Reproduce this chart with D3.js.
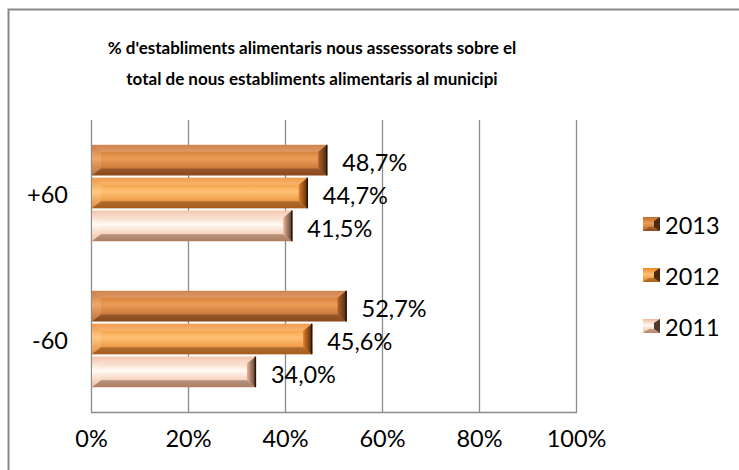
<!DOCTYPE html>
<html>
<head>
<meta charset="utf-8">
<script src="https://cdn.jsdelivr.net/npm/d3@7"></script>
<style>
  body { margin: 0; background: #fff; }
  text { font-family: Lato, "Open Sans", sans-serif; fill: #000; }
</style>
</head>
<body>
<svg id="chart" width="739" height="470"></svg>
<script>
// categories top to bottom, series in drawing order within a group
const categories = ['+60', '-60']
const years = ['2013', '2012', '2011']
const values2013 = [48.7, 52.7]
const values2012 = [44.7, 45.6]
const values2011 = [41.5, 34.0]
const xTicks = [0, 20, 40, 60, 80, 100]
const titleLines = ["% d'establiments alimentaris nous assessorats sobre el", "total de nous establiments alimentaris al municipi"]

const seriesValues = { '2013': values2013, '2012': values2012, '2011': values2011 }

// colours: top edge, middle highlight, bottom of body
const palette = {
  '2013': { top: '#c46a2a', mid: '#eb9c55', bot: '#b5612a', dark: '#4a2a10' },
  '2012': { top: '#ee8628', mid: '#ffc274', bot: '#e27c26', dark: '#4e2a0c' },
  '2011': { top: '#f2b998', mid: '#fffaf4', bot: '#efb494', dark: '#4d3a30' }
}
const fontSize = 23.5

const svg = d3.select('#chart')
const margin = { left: 91, right: 163, top: 120, bottom: 58 }
const width = 739 - margin.left - margin.right
const height = 470 - margin.top - margin.bottom

// outer frame (cut off on the right and bottom like the original)
svg.append('rect')
  .attr('x', 8.5).attr('y', 9.5)
  .attr('width', 740).attr('height', 470)
  .attr('fill', 'none').attr('stroke', '#888').attr('stroke-width', 2)

const title = svg.append('text')
  .attr('text-anchor', 'middle')
  .attr('font-weight', 'bold')
  .attr('font-size', 17)
titleLines.forEach(function(line, i) {
  title.append('tspan').attr('x', 312).attr('y', 54 + i * 31).text(line)
})

const defs = svg.append('defs')
years.forEach(function(y) {
  const p = palette[y]
  const g = defs.append('linearGradient').attr('id', 'body-' + y)
    .attr('x1', 0).attr('y1', 0).attr('x2', 0).attr('y2', 1)
  g.append('stop').attr('offset', '0%').attr('stop-color', p.top)
  g.append('stop').attr('offset', '45%').attr('stop-color', p.mid)
  g.append('stop').attr('offset', '100%').attr('stop-color', p.bot)
  const r = defs.append('linearGradient').attr('id', 'end-' + y)
    .attr('x1', 0).attr('y1', 0).attr('x2', 1).attr('y2', 0)
  r.append('stop').attr('offset', '0%').attr('stop-color', p.bot)
  r.append('stop').attr('offset', '100%').attr('stop-color', p.dark)
})

const g = svg.append('g').attr('id', 'graph-g')
  .attr('transform', 'translate(' + margin.left + ',' + margin.top + ')')

const xScale = d3.scaleLinear().domain([0, 100]).range([0, width])
const yScale = d3.scaleBand().domain(categories).range([0, height]).paddingInner(0.34).paddingOuter(0.17)
const ySub = d3.scaleBand().domain(years).range([0, yScale.bandwidth()]).paddingInner(0.07)

// grid lines
g.selectAll('.grid').data(xTicks).enter().append('line')
  .attr('class', 'grid')
  .attr('x1', function(d) { return xScale(d) + 0.5 }).attr('x2', function(d) { return xScale(d) + 0.5 })
  .attr('y1', 0).attr('y2', height)
  .attr('stroke', '#8c8c8c').attr('stroke-width', 1.3)
g.append('line')
  .attr('x1', 0).attr('x2', width + 1).attr('y1', height + 0.5).attr('y2', height + 0.5)
  .attr('stroke', '#8c8c8c').attr('stroke-width', 1.3)

// x tick labels
const xAxis = d3.axisBottom(xScale).tickValues(xTicks).tickSize(0).tickPadding(18)
  .tickFormat(function(d) { return d + '%' })
g.append('g').attr('class', 'x axis')
  .attr('transform', 'translate(0,' + height + ')')
  .call(xAxis)
  .call(function(a) { a.select('.domain').remove() })
  .selectAll('text').attr('font-size', fontSize).attr('font-family', 'Lato, sans-serif').attr('fill', '#000')

// category labels
g.selectAll('.cat').data(categories).enter().append('text')
  .attr('class', 'cat')
  .attr('x', -23).attr('text-anchor', 'end')
  .attr('y', function(d) { return yScale(d) + yScale.bandwidth() / 2 + 1 })
  .attr('dominant-baseline', 'central')
  .attr('font-size', fontSize)
  .text(function(d) { return d })

// bars with bevel
const bars = []
categories.forEach(function(c, ci) {
  years.forEach(function(y) { bars.push({ cat: c, year: y, value: seriesValues[y][ci] }) })
})

const barG = g.selectAll('.bar').data(bars).enter().append('g').attr('class', 'bar')
barG.each(function(d) {
  const el = d3.select(this)
  const x0 = xScale(0) + 1, x1 = xScale(d.value)
  const y0 = yScale(d.cat) + ySub(d.year), y1 = y0 + ySub.bandwidth()
  const b = 9, bv = 7
  const poly = function(pts) { return pts.map(function(p) { return p.join(',') }).join(' ') }
  el.append('rect').attr('x', x0).attr('y', y0).attr('width', x1 - x0).attr('height', y1 - y0)
    .attr('fill', 'url(#body-' + d.year + ')')
  // top bevel (light)
  el.append('polygon').attr('points', poly([[x0, y0], [x1, y0], [x1 - b, y0 + bv], [x0 + b, y0 + bv]]))
    .attr('fill', '#fff').attr('fill-opacity', 0.18)
  // left bevel (light)
  el.append('polygon').attr('points', poly([[x0, y0], [x0 + b, y0 + bv], [x0 + b, y1 - bv], [x0, y1]]))
    .attr('fill', '#fff').attr('fill-opacity', 0.12)
  // bottom bevel (dark)
  el.append('polygon').attr('points', poly([[x0, y1], [x0 + b, y1 - bv], [x1 - b, y1 - bv], [x1, y1]]))
    .attr('fill', '#3a1e08').attr('fill-opacity', 0.35)
  // right bevel (darkest)
  el.append('polygon').attr('points', poly([[x1, y0], [x1 - b, y0 + bv], [x1 - b, y1 - bv], [x1, y1]]))
    .attr('fill', 'url(#end-' + d.year + ')')
  el.append('line').attr('x1', x1 - 0.5).attr('x2', x1 - 0.5).attr('y1', y0).attr('y2', y1)
    .attr('stroke', '#2a1606').attr('stroke-width', 1.5)
})

// data labels
g.selectAll('.label').data(bars).enter().append('text')
  .attr('class', 'label')
  .attr('x', function(d) { return xScale(d.value) + 15 })
  .attr('y', function(d) { return yScale(d.cat) + ySub(d.year) + ySub.bandwidth() / 2 + 2 })
  .attr('dominant-baseline', 'central')
  .attr('font-size', fontSize)
  .text(function(d) { return d.value.toFixed(1).replace('.', ',') + '%' })

// legend
const legend = svg.selectAll('.legend').data(years).enter().append('g')
  .attr('class', 'legend')
  .attr('transform', function(d, i) { return 'translate(643,' + (224 + i * 51) + ')' })
legend.each(function(d) {
  const el = d3.select(this)
  const w = 17, h = 7
  el.append('rect').attr('x', 0).attr('y', -h).attr('width', w).attr('height', 2 * h)
    .attr('fill', 'url(#body-' + d + ')')
  el.append('polygon').attr('points', [[w, -h], [w - 6, -h + 4], [w - 6, h - 4], [w, h]].join(' '))
    .attr('fill', palette[d].dark)
  el.append('polygon').attr('points', [[0, h], [6, h - 4], [w - 6, h - 4], [w, h]].join(' '))
    .attr('fill', '#3a1e08').attr('fill-opacity', 0.3)
  el.append('text').attr('x', w + 5).attr('y', 1)
    .attr('dominant-baseline', 'central')
    .attr('font-size', fontSize)
    .text(d)
})
</script>
</body>
</html>
